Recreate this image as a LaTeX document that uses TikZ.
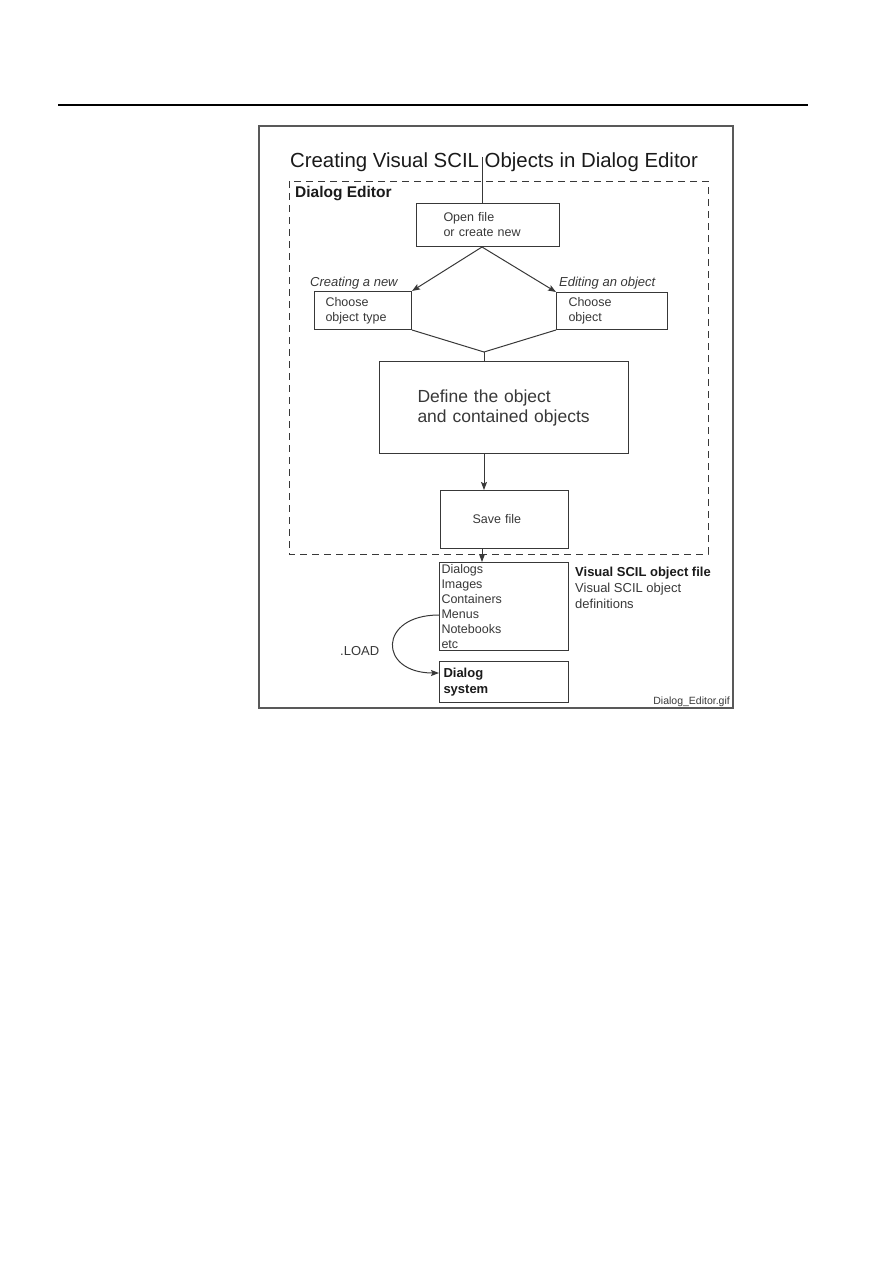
\documentclass[tikz,border=0pt]{standalone}
\usepackage{fontspec}
\setmainfont{Liberation Sans}
\usepackage{xcolor}
\usetikzlibrary{positioning,arrows.meta}
\definecolor{ink}{HTML}{1A1A1A}
\definecolor{softink}{HTML}{383838}

\begin{document}
\begin{tikzpicture}[
    x=1pt, y=-1pt,
    >={Stealth[length=8pt,width=6pt,inset=1.5pt]},
    box/.style={draw=softink, rectangle, anchor=north west, align=left, line width=1pt,
                text=softink, font=\fontsize{12.5}{15}\selectfont, inner ysep=0pt},
    lbl/.style={text=softink, inner sep=0pt, font=\fontsize{13}{16}\selectfont},
    wire/.style={draw=softink, line width=1pt}
  ]
  \useasboundingbox (0,0) rectangle (893,1263);
  \draw[line width=1.3pt] (58,105) -- (808,105);
  \draw[draw=black!65, line width=1.2pt] (259,126) rectangle (733,708);
  \draw[softink, line width=1pt, dash pattern=on 7pt off 5pt] (289,181) rectangle (708,554);

  \node[anchor=base, text=ink, inner sep=0pt, font=\fontsize{20.4}{24}\selectfont] (title) at (494,167)
    {Creating Visual SCIL Objects in Dialog Editor};
  \node[lbl, anchor=base west, text=ink, font=\fontsize{15.5}{18}\selectfont\bfseries] (editor) at (295,197)
    {Dialog Editor};

  \coordinate (entry) at (482,157);
  \node[box, inner xsep=27pt, text width=89pt, minimum height=43pt] (open) at (416,203)
    {Open file\\or create new};
  \node[lbl, anchor=base west, font=\fontsize{13}{16}\selectfont\itshape] (newlbl) at (310,286) {Creating a new};
  \node[lbl, anchor=base west, font=\fontsize{13}{16}\selectfont\itshape] (editlbl) at (559,286) {Editing an object};
  \node[box, inner xsep=11pt, text width=75pt, minimum height=38pt] (newtype) at (314,291)
    {Choose\\object type};
  \node[box, inner xsep=12pt, text width=87pt, minimum height=37pt] (pickobj) at (556,292)
    {Choose\\object};
  \coordinate (join) at (484,352);
  \node[box, inner xsep=38pt, text width=173pt, minimum height=92pt, font=\fontsize{17.5}{20}\selectfont] (define) at (379,361)
    {Define the object\\and contained objects};
  \node[box, inner xsep=32pt, text width=64pt, minimum height=58pt] (save) at (440,490) {Save file};
  \node[box, inner xsep=2pt, text width=125pt, minimum height=88pt] (files) at (439,562)
    {Dialogs\\Images\\Containers\\Menus\\Notebooks\\etc};
  \node[box, below=10pt of files, inner xsep=4pt, text width=121pt, minimum height=41pt,
        text=ink, font=\fontsize{13}{16}\selectfont\bfseries] (sys) {Dialog\\system};
  \node[lbl, anchor=north west, align=left] (fileinfo) at (575,567)
    {\textbf{\color{ink}Visual SCIL object file}\\Visual SCIL object\\definitions};
  \coordinate (menus) at (439,615);
  \node[lbl, anchor=base west] (load) at (340,655) {.LOAD};
  \node[lbl, anchor=base east, font=\fontsize{10.5}{12}\selectfont] (gif) at (730,704) {Dialog\_Editor.gif};

  \draw[wire] (entry) -- (entry |- open.north);
  \draw[wire,->] (entry |- open.south) -- (newtype.north east);
  \draw[wire,->] (entry |- open.south) -- (pickobj.north west);
  \draw[wire] (newtype.south east) -- (join) -- (pickobj.south west);
  \draw[wire] (join) -- (join |- define.north);
  \draw[wire,->] (join |- define.south) -- (join |- save.north);
  \draw[wire,->] (entry |- save.south) -- (entry |- files.north);
  \draw[wire,->] (menus) to[out=180,in=180,looseness=2.7] ([yshift=9pt]sys.west);
\end{tikzpicture}
\end{document}
